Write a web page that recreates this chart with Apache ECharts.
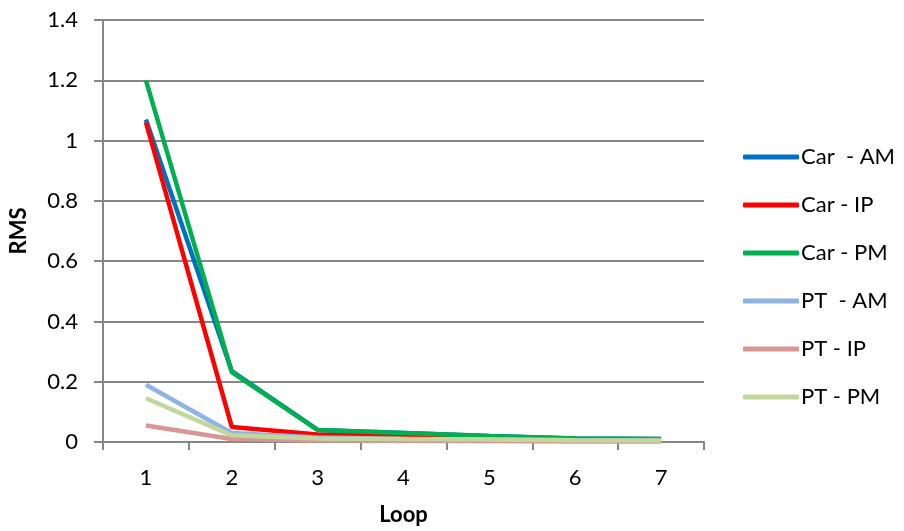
<!DOCTYPE html>
<html>
<head>
<meta charset="utf-8">
<script src="https://cdn.jsdelivr.net/npm/echarts@6/dist/echarts.min.js"></script>
<style>
  html, body { margin: 0; padding: 0; background: #fff; }
  #chart { width: 904px; height: 531px; }
</style>
</head>
<body>
<div id="chart"></div>
<script>
// loops on the x axis
var loops = ['1', '2', '3', '4', '5', '6', '7'];
var seriesNames = ['Car  - AM', 'Car - IP', 'Car - PM', 'PT  - AM', 'PT - IP', 'PT - PM'];
var seriesColors = ['#0070C0', '#FF0000', '#00B050', '#8EB4E3', '#D99694', '#C3D69B'];

var carAM = [1.07, 0.235, 0.04, 0.03, 0.02, 0.012, 0.01];
var carIP = [1.06, 0.05, 0.025, 0.02, 0.015, 0.01, 0.008];
var carPM = [1.2, 0.232, 0.04, 0.03, 0.02, 0.012, 0.01];
var ptAM = [0.19, 0.03, 0.015, 0.01, 0.008, 0.006, 0.005];
var ptIP = [0.055, 0.01, 0.005, 0.004, 0.003, 0.002, 0.002];
var ptPM = [0.145, 0.022, 0.012, 0.01, 0.008, 0.006, 0.005];
var allValues = [carAM, carIP, carPM, ptAM, ptIP, ptPM];

var font = 'Lato, "Open Sans", sans-serif';
var gray = '#868686';

var chart = echarts.init(document.getElementById('chart'));

var series = seriesNames.map(function (name, i) {
    return {
        name: name,
        type: 'line',
        data: allValues[i],
        symbol: 'none',
        lineStyle: { width: 4.5, color: seriesColors[i] },
        itemStyle: { color: seriesColors[i] }
    };
});

chart.setOption({
    animation: false,
    grid: { left: 102, right: 200, top: 20, bottom: 88 },
    legend: {
        orient: 'vertical',
        left: 743,
        top: 145,
        padding: 0,
        itemWidth: 56,
        itemHeight: 5,
        itemGap: 24,
        icon: 'roundRect',
        data: seriesNames,
        textStyle: { fontFamily: font, fontSize: 22, color: '#000', lineHeight: 24, padding: [0, 0, 0, -3] }
    },
    xAxis: {
        type: 'category',
        data: loops,
        boundaryGap: true,
        name: 'Loop',
        nameLocation: 'middle',
        nameGap: 62,
        nameTextStyle: { fontFamily: font, fontSize: 22, fontWeight: 'bold', color: '#000' },
        axisLine: { lineStyle: { color: gray, width: 2 } },
        axisTick: { show: true, length: 8, lineStyle: { color: gray, width: 2 } },
        axisLabel: { fontFamily: font, fontSize: 22, color: '#000', margin: 25 }
    },
    yAxis: {
        type: 'value',
        min: 0,
        max: 1.4,
        interval: 0.2,
        name: 'RMS',
        nameLocation: 'middle',
        nameGap: 73,
        nameRotate: 90,
        nameTextStyle: { fontFamily: font, fontSize: 22, fontWeight: 'bold', color: '#000' },
        axisLine: { show: true, lineStyle: { color: gray, width: 2 } },
        axisTick: { show: true, length: 9, lineStyle: { color: gray, width: 2 } },
        axisLabel: { fontFamily: font, fontSize: 22, color: '#000', margin: 25 },
        splitLine: { lineStyle: { color: gray, width: 2 } }
    },
    series: series
});
</script>
</body>
</html>
